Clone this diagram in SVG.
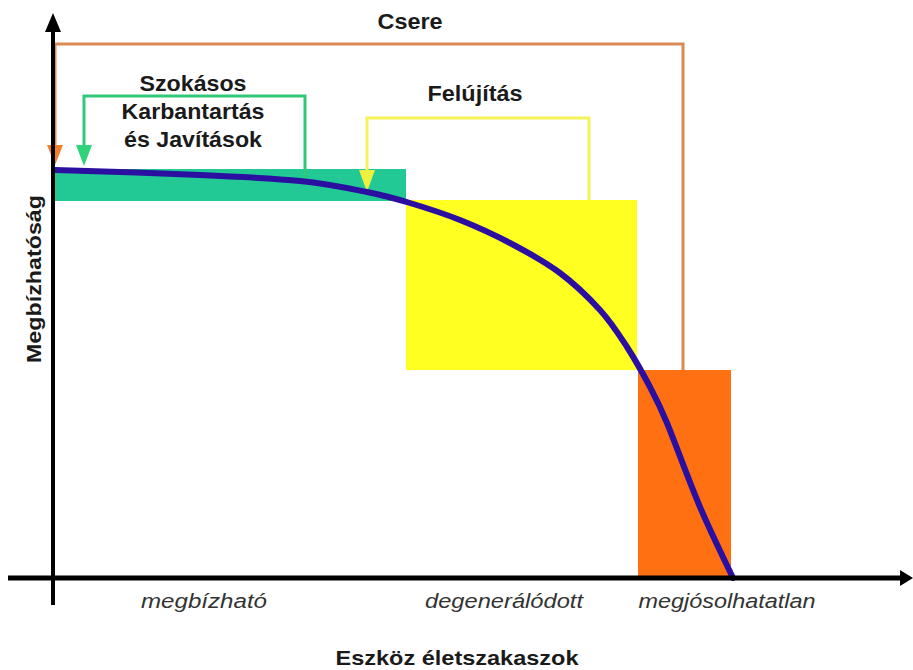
<svg xmlns="http://www.w3.org/2000/svg" width="913" height="670" viewBox="0 0 913 670">
<style>
.t{font-family:"Liberation Sans",Arial,sans-serif;font-weight:bold;fill:#1a1a1a;text-anchor:middle}
.i{font-family:"Liberation Sans",Arial,sans-serif;font-style:italic;fill:#333;text-anchor:middle;font-size:20px}
.br{fill:none;stroke-width:3}
</style>
<rect width="913" height="670" fill="#fff"/>
<g id="bars">
<rect id="green-bar" x="55" y="169" width="351" height="32" fill="#22c995"/>
<rect id="yellow-box" x="406" y="200" width="231" height="170" fill="#ffff22"/>
<rect id="orange-box" x="638" y="370" width="93" height="208" fill="#ff7012"/>
</g>
<g id="connectors">
<polyline class="br" stroke="#d98a55" points="55,150 55,44 683,44 683,370"/>
<path d="M47,145 L63,145 L55,165 Z" fill="#f07f2a"/>
<polyline class="br" stroke="#33c77a" points="84,150 84,96 305,96 305,178"/>
<path d="M76,145 L92,145 L84,166 Z" fill="#2fd47a"/>
<polyline class="br" stroke="#f4f45a" points="367,175 367,118 589,118 589,200"/>
<path d="M359,170 L375,170 L367,192 Z" fill="#eef040"/>
</g>
<g id="curve">
<path fill="none" stroke="#2a0fa0" stroke-width="6" stroke-linecap="round" d="M55,170 C79.2,170.8 159.2,173.2 200,175 C240.8,176.8 272.2,178.2 300,181 C327.8,183.8 348.7,188.3 367,192 C385.3,195.7 394.5,198.3 410,203 C425.5,207.7 443.3,213.3 460,220 C476.7,226.7 493.3,234.2 510,243 C526.7,251.8 545,261.8 560,273 C575,284.2 588.8,297.7 600,310 C611.2,322.3 618.7,334.2 627,347 C635.3,359.8 643.3,374.3 650,387 C656.7,399.7 660,406 667,423 C675.3,443 689,481.2 700,507 C711,532.8 727.5,566.2 733,578"/>
</g>
<g id="axes">
<line x1="53" y1="26" x2="53" y2="605" stroke="#000" stroke-width="4"/>
<path d="M45,32 L53,13 L61,32 Z" fill="#000"/>
<line x1="8" y1="578" x2="904" y2="578" stroke="#000" stroke-width="5"/>
<path d="M900,570 L913,578 L900,586 Z" fill="#000"/>
</g>
<g id="labels">
<text class="t" x="410" y="29" font-size="22" textLength="65" lengthAdjust="spacingAndGlyphs">Csere</text>
<text class="t" x="193" y="91" font-size="22" textLength="107" lengthAdjust="spacingAndGlyphs">Szokásos</text>
<text class="t" x="193" y="119" font-size="22" textLength="143" lengthAdjust="spacingAndGlyphs">Karbantartás</text>
<text class="t" x="193" y="147" font-size="22" textLength="138" lengthAdjust="spacingAndGlyphs">és Javítások</text>
<text class="t" x="475" y="101" font-size="22" textLength="95" lengthAdjust="spacingAndGlyphs">Felújítás</text>
<text class="t" x="0" y="0" font-size="21" textLength="168" lengthAdjust="spacingAndGlyphs" transform="translate(41,279) rotate(-90)">Megbízhatóság</text>
<text class="i" x="204" y="608" textLength="126" lengthAdjust="spacingAndGlyphs">megbízható</text>
<text class="i" x="504" y="608" textLength="158" lengthAdjust="spacingAndGlyphs">degenerálódott</text>
<text class="i" x="727" y="608" textLength="177" lengthAdjust="spacingAndGlyphs">megjósolhatatlan</text>
<text class="t" x="457" y="665" font-size="21" textLength="243" lengthAdjust="spacingAndGlyphs">Eszköz életszakaszok</text>
</g>
</svg>
